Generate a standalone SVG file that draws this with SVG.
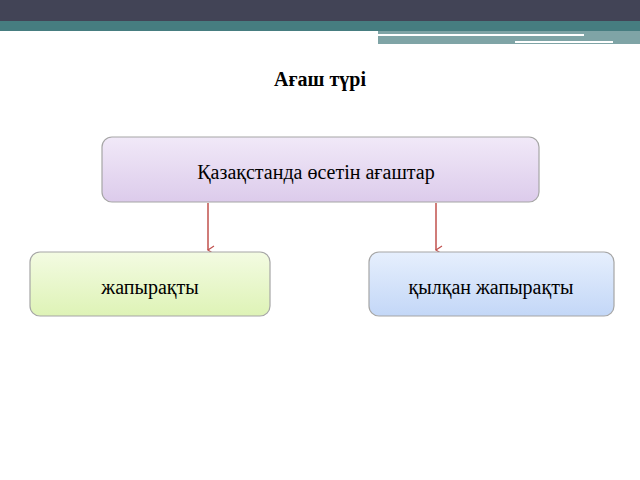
<svg xmlns="http://www.w3.org/2000/svg" width="640" height="480" viewBox="0 0 640 480">
<defs>
<linearGradient id="gp" x1="0" y1="0" x2="0" y2="1"><stop offset="0" stop-color="#f1e9f8"/><stop offset="1" stop-color="#dccbeb"/></linearGradient>
<linearGradient id="gg" x1="0" y1="0" x2="0" y2="1"><stop offset="0" stop-color="#f3fbe2"/><stop offset="1" stop-color="#def3b6"/></linearGradient>
<linearGradient id="gb" x1="0" y1="0" x2="0" y2="1"><stop offset="0" stop-color="#e6effd"/><stop offset="1" stop-color="#c3d7f7"/></linearGradient>
<marker id="ar" markerWidth="10" markerHeight="10" refX="5" refY="8" orient="auto" markerUnits="userSpaceOnUse"><path d="M1,2 L5,8 L9,2" fill="none" stroke="#c0504d" stroke-width="1.2"/></marker>
<style>.b{stroke:#a6a6a6;stroke-width:1.2}.t{font-family:"Liberation Serif",serif;font-size:20px;fill:#000;text-anchor:middle}.c{stroke:#c0504d;stroke-width:1.5;fill:none}</style>
</defs>
<rect width="640" height="480" fill="#fff"/>
<rect x="0" y="0" width="640" height="22" fill="#424456"/>
<rect x="0" y="21" width="640" height="10" fill="#467d80"/>
<rect x="378" y="31" width="262" height="13" fill="#7fa4a6"/>
<rect x="378" y="34" width="206" height="2" fill="#fff"/>
<rect x="515" y="41" width="98" height="2" fill="#fff"/>
<text x="320" y="86" class="t" style="font-weight:bold">Ағаш түрі</text>
<g id="conn"><line x1="208" y1="203" x2="208" y2="250" class="c" marker-end="url(#ar)"/><line x1="436" y1="203" x2="436" y2="250" class="c" marker-end="url(#ar)"/></g>
<g id="top"><rect x="102" y="137" width="437" height="65" rx="10" fill="url(#gp)" class="b"/><text x="316" y="179" class="t">Қазақстанда өсетін ағаштар</text></g>
<g id="left"><rect x="30" y="252" width="240" height="64" rx="10" fill="url(#gg)" class="b"/><text x="150" y="294" class="t">жапырақты</text></g>
<g id="right"><rect x="369" y="252" width="245" height="64" rx="10" fill="url(#gb)" class="b"/><text x="491" y="294" class="t">қылқан жапырақты</text></g>
</svg>
